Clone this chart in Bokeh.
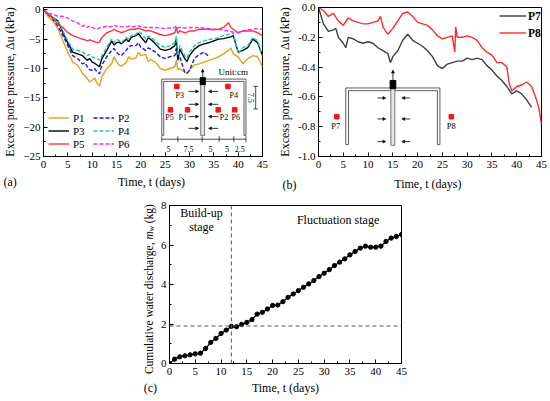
import math
from bokeh.plotting import figure
from bokeh.layouts import column, row
from bokeh.models import (Legend, LegendItem, Label, Span, Arrow, NormalHead,
                          SingleIntervalTicker, Range1d, ColumnDataSource, NumeralTickFormatter)
from bokeh.embed import file_html
from bokeh.resources import INLINE
from bokeh.core.properties import value

NaN = float("nan")
FONT = "Liberation Serif"

# ---------------- panel (a) data ----------------
t_a = [0, 1, 2, 3, 4, 5, 6, 7, 8, 8.5, 9, 9.5, 10, 10.5, 11, 11.5, 12, 13, 14, 14.5, 15, 15.5, 16,
       17, 17.5, 18, 19, 19.5, 20, 21, 21.5, 22, 23, 24, 25, 26, 27, 27.3, 27.6, 28, 29, 29.5, 30,
       31, 32, 33, 34, 35, 36, 37, 38, 38.5, 39, 40, 41, 42, 43, 44, 45]
P1 = [0, -1.2, -2.0, -3.3, -5.3, -7.2, -8.9, -9.4, -10.8, -11.2, -11.7, -12.3, -12.0, -11.6, -12.5, -13.0, -11.4,
      -10.0, -9.2, -8.0, -8.8, -9.4, -9.6, -9.0, -8.0, -8.4, -8.2, -7.2, -7.8, -7.6, -8.8, -8.5, -8.9, -10.0,
      -10.3, -10.0, -9.7, -8.6, -10.2, -10.0, -10.6, -10.8, -10.3, -9.4, -9.2, -8.9, -8.6, -8.3, -8.0, -7.5,
      -6.9, -6.5, -7.5, -8.0, -9.2, -8.3, -7.8, -8.0, -9.7]
P2 = [0, -0.8, -1.7, -2.8, -4.4, -6.1, -7.8, -8.3, -9.2, -9.0, -9.7, -10.2, -10.3, -10.0, -10.6, -10.9, -9.4,
      -8.0, -6.9, -6.6, -7.2, -7.6, -7.8, -6.9, -6.3, -6.1, -6.1, -5.6, -6.4, -6.9, -6.5, -6.7, -7.2, -8.0,
      -8.3, -8.0, -7.8, -6.5, -8.4, -8.0, -10.6, -10.8, -10.3, -8.3, -7.6, -7.2, -8.0,
      NaN, NaN, NaN, NaN, NaN, NaN, NaN, NaN, NaN, NaN, NaN, NaN]
P3 = [0, -0.7, -1.4, -1.9, -3.9, -5.6, -7.2, -7.5, -7.8, -8.2, -8.6, -8.3, -8.9, -9.1, -9.4, -9.7, -8.3,
      -6.9, -5.3, -6.0, -5.6, -5.5, -5.8, -5.0, -5.4, -4.7, -4.4, -4.0, -4.6, -5.6, -4.8, -5.0, -5.8, -6.7,
      -6.9, -6.7, -6.1, -5.0, -8.6, -6.7, -8.3, -8.8, -7.8, -6.7, -6.1, -5.8, -5.6, -5.3, -5.0, -4.9,
      -4.7, -4.6, -4.4, -7.2, -6.9, -6.4, -5.0, -5.6, -7.8]
P4 = [0, -0.6, -1.3, -1.8, -3.6, -5.3, -6.7, -6.9, -7.2, -7.5, -7.8, -7.6, -8.0, -8.2, -8.3, -8.6, -7.8,
      -6.4, -5.0, -5.6, -5.0, -5.2, -5.6, -4.7, -5.0, -4.4, -4.2, -3.7, -3.9, -5.0, -4.5, -4.7, -5.3, -6.1,
      -6.4, -6.1, -5.6, -4.5, -7.8, -6.1, -7.8, -8.2, -7.2, -6.1, -5.6, -5.3, -5.0, -5.0, -4.7, -4.4,
      -4.2, -4.0, -3.9, -7.5, -6.4, -6.1, -4.7, -5.3, -7.8]
P5 = [0, -0.8, -1.5, -2.5, -3.0, -3.9, -4.4, -4.7, -5.0, -5.1, -5.3, -5.1, -5.3, -5.4, -5.6, -5.5, -4.7,
      -3.9, -3.6, -3.3, -3.6, -3.7, -3.9, -3.6, -3.4, -3.3, -3.3, -3.1, -3.3, -3.6, -3.5, -3.6, -3.9, -4.2,
      -4.4, -4.2, -3.9, -3.0, -4.0, -3.6, -3.9, -3.8, -3.6, -3.6, -3.3, -3.3, -3.3, -3.4, -3.3, -3.0,
      -2.2, -3.0, -3.3, -3.9, -3.6, -3.6, -3.6, -3.9, -4.4]
P6 = [0, -0.6, -0.8, -1.1, -1.1, -1.4, -1.9, -2.2, -2.8, -2.6, -3.0, -2.8, -3.0, -3.2, -3.3, -3.1, -3.0,
      -2.8, -2.9, -2.6, -2.8, -2.9, -2.9, -2.9, -2.8, -2.9, -2.8, -2.7, -2.9, -3.0, -2.9, -3.0, -3.0, -3.1,
      -3.2, -3.1, -3.0, -2.7, -3.1, -3.0, -3.1, -3.1, -3.0, -3.0, -3.0, -3.1, -3.2, -3.3, -3.3, -3.5,
      -3.6, -3.7, -3.8, -3.9, -3.6, -3.4, -3.3, -3.2, -3.3]
NAMES_A = ["P1", "P2", "P3", "P4", "P5", "P6"]
COLORS_A = ["#E6A11B", "#1515FF", "#000000", "#19C5C5", "#F5383A", "#FF22FF"]
DASH_A = ["solid", "4 2", "solid", "4 2", "solid", "4 2"]

# ---------------- panel (b) data ----------------
t_p7 = [0, 1, 2, 3, 3.5, 4, 5, 5.5, 6, 7, 8, 9, 10, 11, 12, 13, 14, 14.5, 15, 16, 17, 18, 19, 20, 21,
        22, 23, 24, 25, 26, 27, 28, 29, 30, 31, 32, 33, 34, 35, 36, 37, 38, 39, 40, 41, 42, 43]
P7 = [0, -0.11, -0.16, -0.15, -0.14, -0.20, -0.24, -0.27, -0.20, -0.21, -0.23, -0.24, -0.23, -0.24, -0.27,
      -0.29, -0.31, -0.37, -0.33, -0.29, -0.22, -0.18, -0.22, -0.24, -0.26, -0.29, -0.33, -0.39, -0.41,
      -0.38, -0.37, -0.36, -0.36, -0.34, -0.35, -0.34, -0.35, -0.39, -0.42, -0.46, -0.49, -0.53, -0.58,
      -0.56, -0.58, -0.62, -0.67]
t_p8 = [0, 1, 2, 3, 4, 5, 6, 7, 8, 9, 10, 11, 12, 12.5, 13, 14, 15, 16, 17, 18, 19, 20, 21, 22, 23, 24,
        25, 26, 27, 27.5, 27.7, 28, 29, 30, 31, 32, 33, 34, 35, 36, 37, 38, 38.5, 39, 40, 41, 42, 43, 44,
        44.5, 45]
P8 = [0, -0.02, -0.06, -0.04, -0.09, -0.12, -0.07, -0.09, -0.10, -0.11, -0.11, -0.10, -0.09, -0.06, -0.13,
      -0.18, -0.14, -0.09, -0.04, -0.03, -0.06, -0.10, -0.11, -0.12, -0.15, -0.19, -0.21, -0.20, -0.19,
      -0.30, -0.13, -0.20, -0.20, -0.19, -0.20, -0.22, -0.27, -0.30, -0.32, -0.37, -0.37, -0.40, -0.51,
      -0.56, -0.53, -0.52, -0.50, -0.53, -0.62, -0.68, -0.78]

# ---------------- panel (c) data ----------------
t_c = list(range(46))
MW = [0, 0.22, 0.34, 0.39, 0.44, 0.49, 0.52, 0.76, 1.07, 1.27, 1.52, 1.69, 1.88, 1.86, 1.98, 2.08, 2.22,
      2.50, 2.59, 2.76, 2.94, 2.96, 3.13, 3.35, 3.52, 3.69, 3.86, 4.03, 4.20, 4.40, 4.57, 4.75, 4.96, 5.13,
      5.30, 5.50, 5.67, 5.84, 5.94, 5.89, 5.89, 5.94, 6.18, 6.35, 6.43, 6.53]
T_SPLIT = 12
MW_SPLIT = 1.9

# ---------------- schematic geometry (panel a data units) ----------------
SA_OUT_X = [24.3, 24.3, 41.6, 41.6]
SA_OUT_Y = [-21.4, -11.8, -11.8, -21.4]
SA_IN_X = [24.7, 24.7, 41.2, 41.2]
SA_IN_Y = [-21.4, -12.2, -12.2, -21.4]
SA_PILE = dict(left=32.3, right=33.1, top=-11.8, bottom=-21.4)
SA_CAP = dict(left=32.2, right=33.25, top=-11.55, bottom=-12.75)
SA_UP = dict(x=32.72, y0=-11.55, y1=-10.1)
SA_ARR_Y = [-13.9, -16.1, -18.2, -20.2]
SA_ARR_R = (29.8, 31.9)
SA_ARR_L = (35.9, 33.9)
SA_SQ_X = [27.4, 37.9, 26.1, 29.6, 35.9, 39.3]
SA_SQ_Y = [-13.05, -13.05, -17.05, -17.05, -17.05, -17.05]
SA_LB_T = ["P3", "P4", "P5", "P1", "P2", "P6"]
SA_LB_X = [28.0, 39.1, 25.9, 28.6, 37.1, 39.5]
SA_LB_Y = [-14.55, -14.55, -18.4, -18.4, -18.4, -18.4]
SA_DIM_Y = -22.05
SA_DIM_TICKS = [24.3, 27.6, 32.6, 36.1, 39.1, 41.6]
SA_DIM_T = ["5", "7.5", "5", "5", "2.5"]
SA_DIM_TX = [25.7, 29.8, 34.3, 37.7, 40.3]
SA_DIM_TY = -23.7
SA_VD = dict(x=43.6, y0=-13.05, y1=-16.9)
SA_UNIT = dict(x=39.0, y=-10.55)

# ---------------- schematic geometry (panel b data units) ----------------
SB_OUT_X = [5.5, 5.5, 24.5, 24.5]
SB_OUT_Y = [-0.92, -0.54, -0.54, -0.92]
SB_IN_X = [6.05, 6.05, 24.0, 24.0]
SB_IN_Y = [-0.92, -0.558, -0.558, -0.92]
SB_PILE = dict(left=14.6, right=15.4, top=-0.54, bottom=-0.925)
SB_CAP = dict(left=14.45, right=15.6, top=-0.49, bottom=-0.545)
SB_UP = dict(x=15.02, y0=-0.49, y1=-0.42)
SB_ARR_Y = [-0.607, -0.748, -0.9]
SB_ARR_R = (11.9, 13.6)
SB_ARR_L = (18.5, 16.8)
SB_SQ_X = [3.7, 26.8]
SB_SQ_Y = [-0.733, -0.733]
SB_LB_T = ["P7", "P8"]
SB_LB_X = [3.5, 26.8]
SB_LB_Y = [-0.795, -0.795]


def style(p, xlabel, ylabel, yint, yfmt=None):
    p.grid.visible = False
    p.outline_line_color = "black"
    p.outline_line_width = 1
    p.background_fill_color = "white"
    p.border_fill_color = "white"
    p.xaxis.ticker = SingleIntervalTicker(interval=5, num_minor_ticks=2)
    p.yaxis.ticker = SingleIntervalTicker(interval=yint, num_minor_ticks=2)
    if yfmt:
        p.yaxis.formatter = NumeralTickFormatter(format=yfmt)
    for ax in p.axis:
        ax.major_tick_in = 4
        ax.major_tick_out = 0
        ax.minor_tick_in = 2
        ax.minor_tick_out = 0
        ax.major_tick_line_color = "black"
        ax.minor_tick_line_color = "black"
        ax.axis_line_color = "black"
        ax.major_label_text_font = FONT
        ax.major_label_text_font_size = "11px"
        ax.major_label_text_color = "black"
        ax.axis_label_text_font = FONT
        ax.axis_label_text_font_size = "12px"
        ax.axis_label_text_font_style = "normal"
        ax.axis_label_text_color = "black"
    p.xaxis.axis_label = xlabel
    p.yaxis.axis_label = ylabel
    p.xaxis.major_label_standoff = 4
    p.yaxis.major_label_standoff = 3
    p.xaxis.axis_label_standoff = 3
    p.yaxis.axis_label_standoff = 3


def data_label(p, txt, x, y, size="12px", align="left", angle=0.0, fstyle="normal", place=None):
    lab = Label(x=x, y=y, text=txt, text_font=FONT, text_font_size=size, angle=angle,
                text_font_style=fstyle, text_baseline="middle", text_align=align,
                text_color="black")
    if place is None:
        p.add_layout(lab)
    else:
        p.add_layout(lab, place)


def schematic(p, out_x, out_y, in_x, in_y, pile, cap, up, arr_y, arr_r, arr_l,
              sq_x, sq_y, lb_t, lb_x, lb_y, lb_size, head):
    p.multi_line(xs=[out_x, in_x, [out_x[0], in_x[0]], [in_x[-1], out_x[-1]]],
                 ys=[out_y, in_y, [out_y[0], in_y[0]], [in_y[-1], out_y[-1]]],
                 line_color="#333333", line_width=0.8)
    p.quad(left=[pile["left"]], right=[pile["right"]], top=[pile["top"]], bottom=[pile["bottom"]],
           fill_color="#e4e4e4", line_color="#444444", line_width=0.7)
    p.quad(left=[cap["left"]], right=[cap["right"]], top=[cap["top"]], bottom=[cap["bottom"]],
           fill_color="black", line_color="black")
    p.add_layout(Arrow(end=NormalHead(size=3, fill_color="black", line_color="black", line_width=0.5),
                       x_start=up["x"], y_start=up["y0"], x_end=up["x"], y_end=up["y1"],
                       line_width=0.8, line_color="black"))
    n = len(arr_y)
    src = ColumnDataSource(dict(x0=[arr_r[0]] * n + [arr_l[0]] * n,
                                x1=[arr_r[1]] * n + [arr_l[1]] * n,
                                y0=list(arr_y) * 2, y1=list(arr_y) * 2))
    p.add_layout(Arrow(end=NormalHead(size=head, fill_color="black", line_color="black", line_width=0.5),
                       x_start="x0", y_start="y0", x_end="x1", y_end="y1", source=src,
                       line_width=0.8, line_color="black"))
    p.scatter(x=sq_x, y=sq_y, marker="square", size=4.5, fill_color="#FF1010", line_color="#FF1010")
    p.text(x=lb_x, y=lb_y, text=lb_t, text_font=value(FONT), text_font_size=lb_size,
           text_align="center", text_baseline="middle", text_color="black")


# ================= panel (a) =================
pa = figure(width=275, height=174, x_range=Range1d(0, 45), y_range=Range1d(-25, 0.4),
            output_backend="svg", toolbar_location=None,
            min_border_left=40, min_border_right=13, min_border_top=5, min_border_bottom=18)
style(pa, None, "Excess pore pressure, \u0394u (kPa)", 5)
series_a = [P1, P2, P3, P4, P5, P6]
rends_a = []
for vals, col, dash in zip(series_a, COLORS_A, DASH_A):
    rends_a.append(pa.line(t_a, vals, line_color=col, line_width=1.4, line_dash=dash))

schematic(pa, SA_OUT_X, SA_OUT_Y, SA_IN_X, SA_IN_Y, SA_PILE, SA_CAP, SA_UP, SA_ARR_Y, SA_ARR_R,
          SA_ARR_L, SA_SQ_X, SA_SQ_Y, SA_LB_T, SA_LB_X, SA_LB_Y, "8px", 3)
pa.multi_line(xs=[[SA_DIM_TICKS[0], SA_DIM_TICKS[-1]]] + [[v, v] for v in SA_DIM_TICKS],
              ys=[[SA_DIM_Y, SA_DIM_Y]] + [[SA_DIM_Y + 0.5, SA_DIM_Y - 0.5] for _ in SA_DIM_TICKS],
              line_color="black", line_width=0.7)
pa.text(x=SA_DIM_TX, y=[SA_DIM_TY] * len(SA_DIM_TX), text=SA_DIM_T, text_font=value(FONT),
        text_font_size="8px", text_align="center", text_baseline="middle", text_color="black")
pa.multi_line(xs=[[SA_VD["x"], SA_VD["x"]], [SA_VD["x"] - 0.5, SA_VD["x"] + 0.5],
                  [SA_VD["x"] - 0.5, SA_VD["x"] + 0.5]],
              ys=[[SA_VD["y0"], SA_VD["y1"]], [SA_VD["y0"], SA_VD["y0"]], [SA_VD["y1"], SA_VD["y1"]]],
              line_color="black", line_width=0.7)
pa.text(x=[SA_VD["x"] - 1.0], y=[(SA_VD["y0"] + SA_VD["y1"]) / 2], text=["7.5"], angle=-math.pi / 2,
        text_font=value(FONT), text_font_size="8px", text_align="center", text_baseline="middle",
        text_color="black")
pa.text(x=[SA_UNIT["x"]], y=[SA_UNIT["y"]], text=["Unit:cm"], text_font=value(FONT),
        text_font_size="9px", text_align="center", text_baseline="middle", text_color="black")

leg_a = Legend(items=[LegendItem(label=n, renderers=[r]) for n, r in zip(NAMES_A, rends_a)],
               orientation="horizontal", ncols=2, location=(3, 4),
               glyph_width=21, glyph_height=13, label_height=13, label_width=20, label_standoff=4,
               spacing=0, padding=2, margin=0, border_line_alpha=0, background_fill_alpha=0,
               label_text_font=FONT, label_text_font_size="11px", label_text_color="black")
pa.add_layout(leg_a)

# ================= panel (b) =================
pb = figure(width=275, height=174, x_range=Range1d(0, 45), y_range=Range1d(-1.0, 0.0),
            output_backend="svg", toolbar_location=None,
            min_border_left=43, min_border_right=9, min_border_top=7, min_border_bottom=17)
style(pb, None, "Excess pore pressure, \u0394u (kPa)", 0.2, "0.0")
r7 = pb.line(t_p7, P7, line_color="#3F3F3F", line_width=1.4)
r8 = pb.line(t_p8, P8, line_color="#FF2A2A", line_width=1.4)
schematic(pb, SB_OUT_X, SB_OUT_Y, SB_IN_X, SB_IN_Y, SB_PILE, SB_CAP, SB_UP, SB_ARR_Y, SB_ARR_R,
          SB_ARR_L, SB_SQ_X, SB_SQ_Y, SB_LB_T, SB_LB_X, SB_LB_Y, "8.5px", 3)
leg_b = Legend(items=[LegendItem(label="P7", renderers=[r7]), LegendItem(label="P8", renderers=[r8])],
               location="top_right", glyph_width=27, glyph_height=17, label_height=17, label_width=13,
               label_standoff=2, spacing=0, padding=0, margin=0, border_line_alpha=0,
               background_fill_alpha=0, label_text_font=FONT, label_text_font_size="11.5px",
               label_text_font_style="bold", label_text_color="black")
pb.add_layout(leg_b)

# ================= panel (c), full width; it also carries the (a)/(b) captions =================
pc = figure(width=550, height=227, x_range=Range1d(0, 45), y_range=Range1d(0, 8),
            output_backend="svg", toolbar_location=None,
            min_border_left=169, min_border_right=149, min_border_top=31, min_border_bottom=38)
style(pc, "Time, t (days)", None, 2)
pc.add_layout(Span(location=T_SPLIT, dimension="height", line_color="#555555", line_width=1,
                   line_dash="4 3"))
pc.add_layout(Span(location=MW_SPLIT, dimension="width", line_color="#555555", line_width=1,
                   line_dash="4 3"))
pc.line(t_c, MW, line_color="black", line_width=1.3)
pc.scatter(t_c, MW, size=4.3, fill_color="black", line_color="black")
data_label(pc, "Build-up", 6.2, 7.6, align="center")
data_label(pc, "stage", 6.2, 6.9, align="center")
data_label(pc, "Fluctuation stage", 32.7, 7.26, align="center")

# y-axis label of (c) with subscript (rotated pieces, data units of panel c)
YLX = -4.07
data_label(pc, "Cumulative water discharge,", YLX, 6.13, size="11.5px", align="right",
           angle=math.pi / 2, place="left")
data_label(pc, "m", YLX, 6.28, size="11.5px", align="left", angle=math.pi / 2, fstyle="italic",
           place="left")
data_label(pc, "w", YLX + 0.5, 6.69, size="8px", align="left", angle=math.pi / 2, fstyle="italic",
           place="left")
data_label(pc, "(kg)", YLX, 7.1, size="11.5px", align="left", angle=math.pi / 2, place="left")
data_label(pc, "(c)", -5.0, -1.22, place="left")
# captions of the upper panels (placed in the space above panel c)
data_label(pc, "(a)", -32.2, 9.165, place="left")
data_label(pc, "Time, t (days)", -3.49, 9.165, align="center", place="left")
data_label(pc, "(b)", 21.9, 9.04, place="right")
data_label(pc, "Time, t  (days)", 50.4, 9.11, align="center", place="right")

layout = column(row(pa, pb), pc)
open("out.html", "w").write(file_html(layout, INLINE))
